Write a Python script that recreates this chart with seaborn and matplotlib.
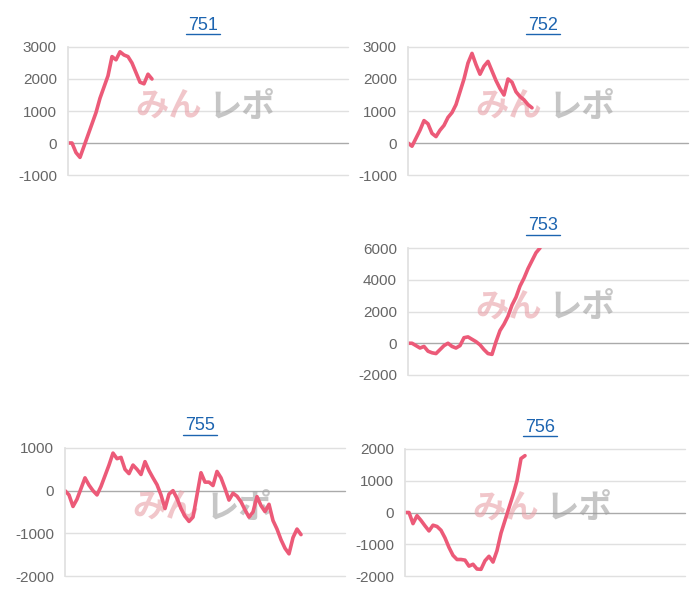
import matplotlib
matplotlib.use('Agg')
import matplotlib.pyplot as plt
import seaborn as sns
import numpy as np

# balance series per machine
names = ['751', '752', '753', '755', '756']
v751 = [0, 0, -300, -450, -100, 250, 600, 950, 1400, 1750, 2100, 2700, 2600, 2850,
        2750, 2700, 2500, 2200, 1900, 1850, 2150, 2000]
v752 = [0, -100, 150, 400, 700, 600, 300, 200, 400, 550, 800, 950, 1200, 1600, 2000,
        2500, 2800, 2450, 2150, 2400, 2550, 2250, 1950, 1700, 1500, 2000, 1900, 1600,
        1450, 1350, 1200, 1100]
v753 = [0, 0, -150, -300, -200, -500, -600, -650, -400, -150, 0, -200, -300, -150,
        350, 400, 250, 100, -100, -400, -650, -700, 100, 800, 1200, 1700, 2400, 2900,
        3600, 4100, 4700, 5200, 5700, 6000]
v755 = [0, -100, -370, -200, 50, 300, 130, 0, -100, 100, 350, 600, 880, 750, 780, 500,
        400, 600, 500, 380, 680, 470, 300, 140, -100, -420, -80, 0, -180, -420, -600,
        -720, -620, -100, 420, 200, 200, 120, 450, 300, 50, -220, -60, -130, -260, -450,
        -620, -500, -140, -350, -490, -320, -700, -900, -1150, -1350, -1480, -1100,
        -900, -1030]
v756 = [0, 0, -350, -100, -250, -420, -580, -400, -440, -560, -800, -1100, -1350,
        -1480, -1480, -1500, -1690, -1630, -1780, -1790, -1520, -1380, -1560, -1200,
        -650, -250, 150, 550, 1000, 1700, 1790]
series = [v751, v752, v753, v755, v756]
ylims = [(-1000, 3000), (-1000, 3000), (-2000, 6000), (-2000, 1000), (-2000, 2000)]
yticks = [[-1000, 0, 1000, 2000, 3000], [-1000, 0, 1000, 2000, 3000],
          [-2000, 0, 2000, 4000, 6000], [-2000, -1000, 0, 1000],
          [-2000, -1000, 0, 1000, 2000]]

sns.set_theme(style='white')
plt.rcParams['font.family'] = ['Liberation Sans', 'DejaVu Sans']
plt.rcParams['axes.unicode_minus'] = False

W, H = 700, 600
fig = plt.figure(figsize=(7, 6), dpi=100)
# axes boxes in pixels: left, top, right, bottom
boxes = [(68, 47, 348, 175), (408, 47, 688, 175), (408, 248, 688, 375),
         (65, 448, 345, 576), (405, 449, 685, 576)]

for name, vals, yl, yt, (l, t, r, b) in zip(names, series, ylims, yticks, boxes):
    ax = fig.add_axes([l / W, 1 - b / H, (r - l) / W, (b - t) / H])
    sns.lineplot(x=np.arange(len(vals)), y=vals, ax=ax, color='#ec5a78', lw=2.6)
    ax.set_xlim(0, 70)
    ax.set_ylim(*yl)
    ax.set_yticks(yt)
    ax.set_xticks([])
    ax.set_xlabel('')
    ax.set_ylabel('')
    for y in yt:
        ax.axhline(y, color='#aaaaaa' if y == 0 else '#e0e0e0', lw=1, zorder=0,
                   clip_on=False)
    for s in ['top', 'right', 'bottom']:
        ax.spines[s].set_visible(False)
    ax.spines['left'].set_color('#e0e0e0')
    ax.tick_params(axis='y', length=0, labelsize=11, labelcolor='#666666', pad=8)
    # link-style title with underline
    cx = (l + r) / 2 - 5
    ty = t - 22
    fig.text(cx / W, 1 - ty / H, name, ha='center', va='center', fontsize=13,
             color='#1c64b0')
    fig.add_artist(plt.Line2D([(cx - 17) / W, (cx + 17) / W],
                              [1 - (ty + 9) / H, 1 - (ty + 9) / H],
                              color='#1c64b0', lw=1.0))
    # watermark
    ax.text(0.36, 0.53, 'みん', transform=ax.transAxes, ha='center', va='center',
            fontsize=24, fontweight='bold', color='#e8a0a8', alpha=0.6,
            family=['Noto Sans CJK JP'], zorder=0)
    ax.text(0.62, 0.53, 'レポ', transform=ax.transAxes, ha='center', va='center',
            fontsize=24, fontweight='bold', color='#a0a0a0', alpha=0.6,
            family=['Noto Sans CJK JP'], zorder=0)

fig.savefig('out.png', dpi=100)
